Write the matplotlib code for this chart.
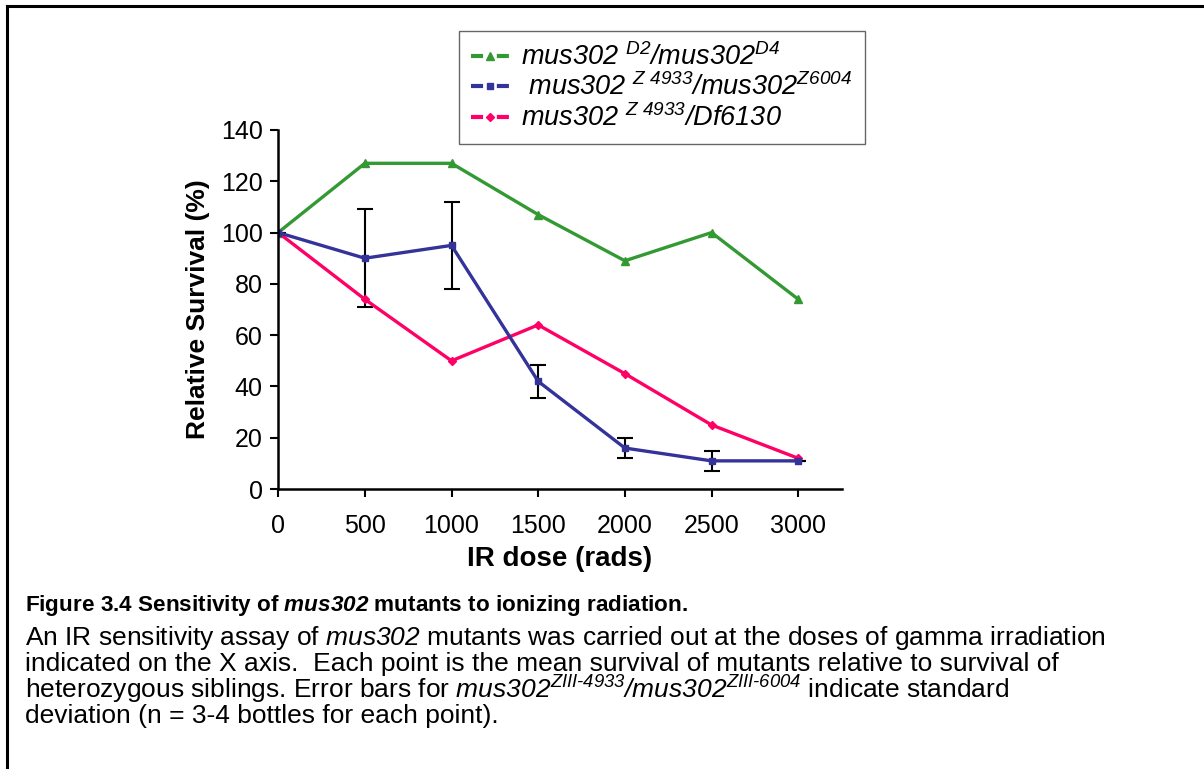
import matplotlib
matplotlib.use('Agg')
import matplotlib.pyplot as plt
from matplotlib.lines import Line2D

plt.rcParams['font.family'] = ['Liberation Sans', 'DejaVu Sans']
plt.rcParams['mathtext.fontset'] = 'custom'
# all mathtext pieces in this figure are italic (gene names), digits included
plt.rcParams['mathtext.rm'] = 'Liberation Sans:italic'
plt.rcParams['mathtext.it'] = 'Liberation Sans:italic'
plt.rcParams['mathtext.bf'] = 'Liberation Sans:bold:italic'
plt.rcParams['mathtext.bfit'] = 'Liberation Sans:bold:italic'

# IR dose (rads)
doses = [0, 500, 1000, 1500, 2000, 2500, 3000]

# relative survival (%)
d2_d4 = [100, 127, 127, 107, 89, 100, 74]
z4933_z6004 = [100, 90, 95, 42, 16, 11, 11]
z4933_z6004_sd = [0, 19, 17, 6.5, 4, 4, 0]
z4933_df6130 = [100, 74, 50, 64, 45, 25, 12]

labels = [
    r"$\mathit{mus302}\ ^{\mathit{D2}}\mathit{/mus302}^{\mathit{D4}}$",
    r"$\ \mathit{mus302}\ ^{\mathit{Z\ 4933}}\mathit{/mus302}^{\mathit{Z6004}}$",
    r"$\mathit{mus302}\ ^{\mathit{Z\ 4933}}\mathit{/Df6130}$",
]

green = '#339933'
blue = '#333399'
pink = '#ff0066'

fig = plt.figure(figsize=(12.04, 7.69), dpi=100)
ax = fig.add_axes([0.231, 0.364, 0.468, 0.467])

ax.plot(doses, d2_d4, color=green, lw=2.4, marker='^', ms=6, label=labels[0])
ax.errorbar(doses, z4933_z6004, yerr=z4933_z6004_sd, color=blue, lw=2.4,
            marker='s', ms=5, ecolor='black', elinewidth=1.5, capsize=6,
            capthick=1.5, label=labels[1])
ax.plot(doses, z4933_df6130, color=pink, lw=2.4, marker='D', ms=4, label=labels[2])

ax.set_xlim(0, 3250)
ax.set_ylim(0, 140)
ax.set_xticks(doses)
ax.set_yticks(range(0, 141, 20))
ax.spines['top'].set_visible(False)
ax.spines['right'].set_visible(False)
ax.spines['left'].set_linewidth(1.8)
ax.spines['bottom'].set_linewidth(1.8)
ax.tick_params(labelsize=18, width=1.5, length=6, pad=5)
ax.tick_params(axis='x', pad=12)
ax.set_xlabel('IR dose (rads)', fontsize=20, fontweight='bold', labelpad=6)
ax.set_ylabel('Relative Survival (%)', fontsize=19, fontweight='bold', labelpad=8)

dash = (0, (2.9, 3.3))
handles = [
    Line2D([], [], color=green, lw=3, ls=dash, marker='^', ms=6),
    Line2D([], [], color=blue, lw=3, ls=dash, marker='s', ms=5),
    Line2D([], [], color=pink, lw=3, ls=dash, marker='D', ms=4.5),
]
leg = fig.legend(handles, labels, loc='upper left',
                 bbox_to_anchor=(459 / 1204, 1 - 31 / 769), fontsize=19.5,
                 fancybox=False, edgecolor='#666666', framealpha=1,
                 handlelength=1.4, handletextpad=0.45, labelspacing=0.1,
                 borderpad=0.45, borderaxespad=0)
leg.get_frame().set_linewidth(1)

# frame around the figure
fig.add_artist(Line2D([7 / 1204, 7 / 1204], [0, 1 - 6 / 769], color='black',
                      lw=2.2, transform=fig.transFigure))
fig.add_artist(Line2D([7 / 1204, 1], [1 - 6 / 769, 1 - 6 / 769], color='black',
                      lw=2.2, transform=fig.transFigure))

# caption
x0 = 25 / 1204
fig.text(x0, 1 - 605 / 769,
         r"Figure 3.4 Sensitivity of $\mathbfit{mus302}$ mutants to ionizing radiation.",
         fontsize=16.2, fontweight='bold', va='center')
body = [
    r"An IR sensitivity assay of $\mathit{mus302}$ mutants was carried out at the doses of gamma irradiation",
    r"indicated on the X axis.  Each point is the mean survival of mutants relative to survival of",
    r"heterozygous siblings. Error bars for $\mathit{mus302}^{\mathit{ZIII‐4933}}\mathit{/mus302}^{\mathit{ZIII‐6004}}$ indicate standard",
    r"deviation (n = 3-4 bottles for each point).",
]
for i, line in enumerate(body):
    fig.text(x0, 1 - (638 + 26 * i) / 769, line, fontsize=19, va='center')

fig.savefig('out.png', dpi=100)
